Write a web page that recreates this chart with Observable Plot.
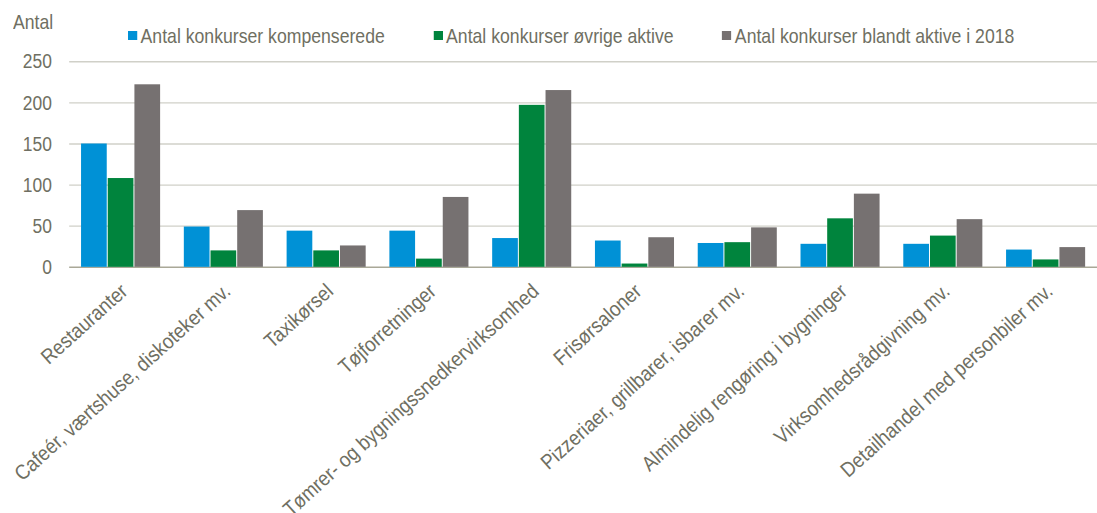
<!DOCTYPE html>
<html>
<head>
<meta charset="utf-8">
<script src="https://cdn.jsdelivr.net/npm/d3@7"></script>
<script src="https://cdn.jsdelivr.net/npm/@observablehq/plot@0.6"></script>
<style>
  html, body { margin: 0; padding: 0; background: #fff; overflow: hidden; }
  #wrap { position: relative; width: 1097px; height: 513px; overflow: hidden;
          font-family: "Liberation Sans", Arial, sans-serif; color: #6f6f62; }
  #wrap svg { position: absolute; left: 0; top: 0; }
  #ylabel { position: absolute; left: 13px; top: 11px; font-size: 21px; line-height: 1;
            transform: scaleX(0.84); transform-origin: left top; }
  #legend { position: absolute; left: 128px; top: 25px; display: flex; gap: 58px; font-size: 21px; line-height: 1;
            transform: scaleX(0.84); transform-origin: left top; }
  #legend .item { display: flex; align-items: center; white-space: nowrap; }
  #legend .sw { width: 11px; height: 9px; margin-right: 4px; display: inline-block; }
</style>
</head>
<body>
<div id="wrap"></div>
<script>
const categories = [
  "Restauranter",
  "Cafeér, værtshuse, diskoteker mv.",
  "Taxikørsel",
  "Tøjforretninger",
  "Tømrer- og bygningssnedkervirksomhed",
  "Frisørsaloner",
  "Pizzeriaer, grillbarer, isbarer mv.",
  "Almindelig rengøring i bygninger",
  "Virksomhedsrådgivning mv.",
  "Detailhandel med personbiler mv."
];
const seriesNames = [
  "Antal konkurser kompenserede",
  "Antal konkurser øvrige aktive",
  "Antal konkurser blandt aktive i 2018"
];
const kompenserede = [150, 49, 44, 44, 35, 32, 29, 28, 28, 21];
const ovrigeAktive = [108, 20, 20, 10, 197, 4, 30, 59, 38, 9];
const blandtAktive2018 = [222, 69, 26, 85, 215, 36, 48, 89, 58, 24];
const colors = ["#0091d6", "#00843d", "#767171"];
const yTicks = [0, 50, 100, 150, 200, 250];
const yLabel = "Antal";

const valuesBySeries = [kompenserede, ovrigeAktive, blandtAktive2018];
const rows = [];
categories.forEach((c, i) => {
  seriesNames.forEach((s, j) => rows.push({category: c, series: s, value: valuesBySeries[j][i]}));
});

const W = 1110, H = 513;
const common = {
  width: W, height: H,
  marginLeft: 70, marginRight: 0, marginTop: 62, marginBottom: 243,
  style: {background: "transparent", fontSize: "21px", fontFamily: "\"Liberation Sans\", Arial, sans-serif", color: "#6f6f62", overflow: "visible"}
};

// Background: gridlines, baseline and y axis
const bg = Plot.plot({
  ...common,
  y: {domain: [0, 250], ticks: yTicks, tickSize: 0, tickPadding: 18, label: null},
  marks: [
    Plot.ruleY(yTicks.filter(d => d > 0), {stroke: "#d0d0c8", strokeWidth: 1.3}),
    Plot.ruleY([0], {stroke: "#a9a897", strokeWidth: 1.5})
  ]
});

// Bars grouped by category
const bars = Plot.plot({
  ...common,
  facet: {data: rows, x: "category"},
  fx: {domain: categories, paddingInner: 0.221, paddingOuter: 0.11, tickRotate: -42, tickSize: 0, tickPadding: 21, label: null},
  x: {domain: seriesNames, paddingInner: 0.05, paddingOuter: 0, axis: null},
  y: {domain: [0, 250], axis: null},
  color: {domain: seriesNames, range: colors},
  marks: [
    Plot.barY(rows, {x: "series", y: "value", fill: "series"})
  ]
});

const wrap = document.getElementById("wrap");
wrap.appendChild(bg);
wrap.appendChild(bars);

// condense the axis text (narrow typeface look)
function condense(svg, k, shiftX) {
  svg.querySelectorAll("text").forEach(t => {
    const len = t.getComputedTextLength();
    if (len > 0) {
      t.setAttribute("textLength", (len * k).toFixed(2));
      t.setAttribute("lengthAdjust", "spacingAndGlyphs");
    }
    if (shiftX) {
      const tr = t.getAttribute("transform") || "";
      t.setAttribute("transform", `translate(${shiftX},0) ${tr}`);
    }
  });
}
condense(bg, 0.84, 0);
condense(bars, 0.9, 4);

const yl = document.createElement("div");
yl.id = "ylabel";
yl.textContent = yLabel;
wrap.appendChild(yl);

const legend = document.createElement("div");
legend.id = "legend";
seriesNames.forEach((s, j) => {
  const it = document.createElement("div");
  it.className = "item";
  const sw = document.createElement("span");
  sw.className = "sw";
  sw.style.background = colors[j];
  it.appendChild(sw);
  it.appendChild(document.createTextNode(s));
  legend.appendChild(it);
});
wrap.appendChild(legend);
</script>
</body>
</html>
